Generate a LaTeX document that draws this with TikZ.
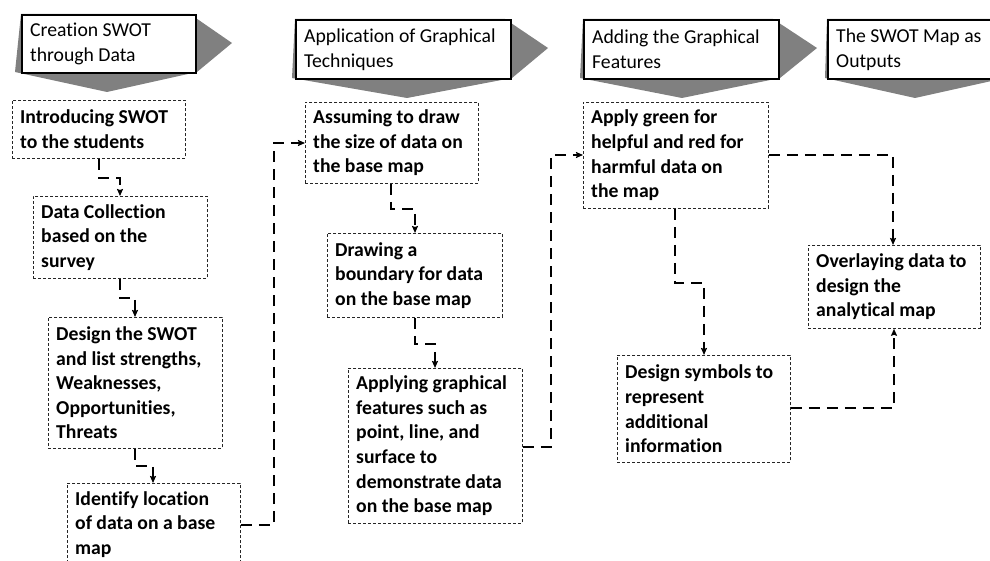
\documentclass[tikz,border=0pt]{standalone}
\usepackage{fontspec}
\setmainfont{Carlito}[Ligatures=NoCommon]
\usetikzlibrary{arrows.meta}
\definecolor{hdrgray}{RGB}{128,128,128}
\begin{document}
\begin{tikzpicture}[x=1pt,y=-1pt,
  stepbox/.style={draw=black!85, line width=0.8pt, dash pattern=on 3pt off 2pt,
    anchor=north west, inner sep=0pt, minimum width=173pt},
  steptext/.style={anchor=west, align=left, inner sep=0pt, xshift=8pt,
    font=\fontsize{19.7}{24.6}\selectfont\bfseries},
  hdrbox/.style={draw=black, line width=1.6pt, fill=white, anchor=north west,
    inner sep=0pt, minimum height=59pt},
  hdrtext/.style={anchor=west, align=left, inner sep=0pt, xshift=9pt,
    font=\fontsize{19.7}{25}\selectfont},
  hdrarrow/.style={fill=hdrgray, draw=none},
  conn/.style={line width=2.4pt, dash pattern=on 11pt off 7pt,
    -{Stealth[length=7pt,width=6pt,inset=1pt]}}]
\clip (0,0) rectangle (990,561);
% header arrows (gray)
\fill[hdrarrow] (21,14) -- (190,14) -- (232,43) -- (197,72) -- (107,92) -- (15,72) -- cycle;
\fill[hdrarrow] (295,19) -- (505,19) -- (548,48) -- (512,78) -- (407,98) -- (292,78) -- cycle;
\fill[hdrarrow] (583,19) -- (773,19) -- (817,48) -- (780,78) -- (682,98) -- (580,78) -- cycle;
\fill[hdrarrow] (827,19) -- (1000,19) -- (1005,78) -- (915,98) -- (825,78) -- cycle;
% header boxes
\node[hdrbox, minimum width=174pt, minimum height=58pt] (h1) at (21,14) {};
\node[hdrtext] (h1t) at (h1.west) {Creation SWOT\\through Data};
\node[hdrbox, minimum width=215pt] (h2) at (295,19) {};
\node[hdrtext] (h2t) at (h2.west) {Application of Graphical\\Techniques};
\node[hdrbox, minimum width=195pt] (h3) at (583,19) {};
\node[hdrtext] (h3t) at (h3.west) {Adding the Graphical\\Features};
\node[hdrbox, minimum width=180pt] (h4) at (827,19) {};
\node[hdrtext] (h4t) at (h4.west) {The SWOT Map as\\Outputs};
% step boxes
\node[stepbox, minimum height=58pt] (A) at (12,100) {};
\node[steptext] (At) at (A.west) {Introducing SWOT\\to the students};
\node[stepbox, minimum width=174pt, minimum height=82pt] (B) at (33,196) {};
\node[steptext] (Bt) at (B.west) {Data Collection\\based on the\\survey};
\node[stepbox, minimum width=174pt, minimum height=131pt] (C) at (48,317) {};
\node[steptext] (Ct) at (C.west) {Design the SWOT\\and list strengths,\\Weaknesses,\\Opportunities,\\Threats};
\node[stepbox, minimum height=82pt] (D) at (67,483) {};
\node[steptext] (Dt) at (D.west) {Identify location\\of data on a base\\map};
\node[stepbox, minimum height=81pt] (E) at (305,102) {};
\node[steptext] (Et) at (E.west) {Assuming to draw\\the size of data on\\the base map};
\node[stepbox, minimum width=175pt, minimum height=84pt] (F) at (327,233) {};
\node[steptext] (Ft) at (F.west) {Drawing a\\boundary for data\\on the base map};
\node[stepbox, minimum width=174pt, minimum height=155pt] (G) at (348,368) {};
\node[steptext] (Gt) at (G.west) {Applying graphical\\features such as\\point, line, and\\surface to\\demonstrate data\\on the base map};
\node[stepbox, minimum width=185pt, minimum height=106pt] (H) at (583,102) {};
\node[steptext] (Ht) at (H.west) {Apply green for\\helpful and red for\\harmful data on\\the map};
\node[stepbox, minimum height=107pt] (I) at (617,355) {};
\node[steptext] (It) at (I.west) {Design symbols to\\represent\\additional\\information};
\node[stepbox, minimum width=172pt, minimum height=83pt] (J) at (808,245) {};
\node[steptext] (Jt) at (J.west) {Overlaying data to\\design the\\analytical map};
% connectors
\draw[conn] ([xshift=87pt]A.south west) -- ++(0,19) -| ([xshift=87pt]B.north west);
\draw[conn] ([xshift=87pt]B.south west) -- ++(0,19) -| ([xshift=87pt]C.north west);
\draw[conn] ([xshift=87pt]C.south west) -- ++(0,17) -| ([xshift=86pt]D.north west);
\draw[conn] ([yshift=-42pt]D.north east) -- ++(33,0) |- ([yshift=-41pt]E.north west);
\draw[conn] ([xshift=86pt]E.south west) -- ++(0,25) -| ([xshift=88pt]F.north west);
\draw[conn] ([xshift=88pt]F.south west) -- ++(0,26) -| ([xshift=87pt]G.north west);
\draw[conn] ([yshift=-79pt]G.north east) -- ++(28,0) |- ([yshift=-53pt]H.north west);
\draw[conn] ([yshift=-53pt]H.north east) -| ([xshift=85pt]J.north west);
\draw[conn] ([xshift=92pt]H.south west) -- ++(0,74) -| ([xshift=87pt]I.north west);
\draw[conn] ([yshift=-53pt]I.north east) -| ([xshift=86pt]J.south west);
\end{tikzpicture}
\end{document}
